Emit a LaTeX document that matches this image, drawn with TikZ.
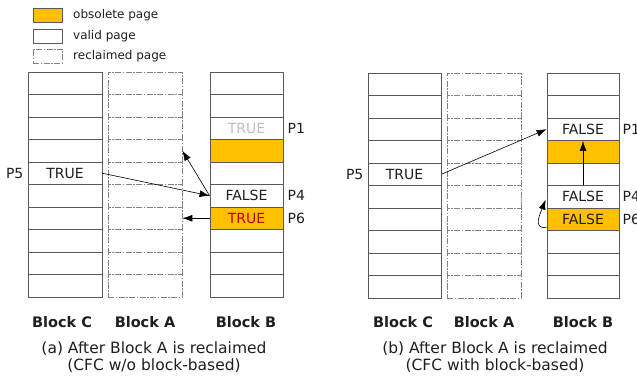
\documentclass[tikz,border=0pt]{standalone}
\usepackage{fontspec}
\setmainfont{DejaVu Sans}
\usetikzlibrary{arrows.meta}
\definecolor{obsolete}{RGB}{255,192,0}
\definecolor{linegray}{RGB}{88,88,88}
\definecolor{dashgray}{RGB}{130,130,130}
\definecolor{textdark}{RGB}{30,30,30}
\definecolor{fadedtext}{RGB}{190,190,190}
\definecolor{alerttext}{RGB}{200,0,0}
\begin{document}
\begin{tikzpicture}[x=1pt,y=-1pt,
  page/.style={draw=linegray, line width=0.8pt, fill=white, minimum width=74pt,
    minimum height=22.5pt, inner sep=0pt, font=\fontsize{14}{14}\selectfont, text=textdark},
  narrowpage/.style={page, minimum width=73pt},
  reclaimed/.style={page, draw=dashgray,
    dash pattern=on 6pt off 1.5pt on 1.5pt off 1.5pt},
  legbox/.style={draw=linegray, line width=0.8pt, minimum width=29pt,
    minimum height=14pt, inner sep=0pt},
  legtext/.style={anchor=west, inner sep=0pt, font=\fontsize{12}{12}\selectfont, text=textdark},
  plabel/.style={inner sep=0pt, font=\fontsize{14}{14}\selectfont, text=textdark},
  blocklabel/.style={inner sep=0pt, font=\bfseries\fontsize{14.5}{14.5}\selectfont, text=textdark},
  caption/.style={inner sep=0pt, align=center, font=\fontsize{15.5}{17}\selectfont, text=textdark},
  arr/.style={draw=black, line width=0.6pt, -{Latex[length=10pt,width=7pt]}}
]
\useasboundingbox (0,0) rectangle (637,379);

% ---------- legend ----------
\node[legbox, fill=obsolete] (legObs) at (47.5,15) {};
\node[legbox, fill=white] (legValid) at (47.5,36) {};
\node[legbox, draw=dashgray, dash pattern=on 6pt off 1.5pt on 1.5pt off 1.5pt] (legRecl) at (47.5,56) {};
\node[legtext] (legObsT) at (73,15) {obsolete page};
\node[legtext] (legValidT) at (73,36) {valid page};
\node[legtext] (legReclT) at (73,56) {reclaimed page};

% ---------- (a) without block-based CFC ----------
\foreach \i in {0,...,9} {
  \node[page] (aC\i) at (65,83.25+22.5*\i) {};
  \node[reclaimed] (aA\i) at (145,83.25+22.5*\i) {};
}
\foreach \i in {0,1,4,7,8,9}
  \node[narrowpage] (aB\i) at (246.5,83.25+22.5*\i) {};
\node[narrowpage, text=fadedtext] (aB2) at (246.5,128.25) {TRUE};
\node[narrowpage, fill=obsolete] (aB3) at (246.5,150.75) {};
\node[narrowpage] (aB5) at (246.5,195.75) {FALSE};
\node[narrowpage, fill=obsolete, text=alerttext] (aB6) at (246.5,218.25) {TRUE};
\node[page] (aC4) at (65,173.25) {TRUE};

\node[plabel, anchor=east] (aP5) at ([xshift=-4pt]aC4.west) {P5};
\node[plabel, anchor=west] (aP1) at ([xshift=4pt]aB2.east) {P1};
\node[plabel, anchor=west] (aP4) at ([xshift=4pt]aB5.east) {P4};
\node[plabel, anchor=west] (aP6) at ([xshift=4pt]aB6.east) {P6};

\draw[arr] (aC4.east) -- (aB5.west);
\draw[arr] (aB5.west) -- (aA3.east);
\draw[arr] (aB6.west) -- (aA6.east);

\node[blocklabel] (aLC) at (62,322) {Block C};
\node[blocklabel] (aLA) at (145,322) {Block A};
\node[blocklabel] (aLB) at (246,322) {Block B};
\node[caption] (aCap) at (154,357) {(a) After Block A is reclaimed\\(CFC w/o block-based)};

% ---------- (b) with block-based CFC ----------
\foreach \i in {0,...,9} {
  \node[narrowpage] (bC\i) at (404.5,84.25+22.5*\i) {};
  \node[reclaimed] (bA\i) at (484,84.25+22.5*\i) {};
}
\foreach \i in {0,1,4,7,8,9}
  \node[page, minimum width=72pt] (bB\i) at (583,84.25+22.5*\i) {};
\node[page, minimum width=72pt] (bB2) at (583,129.25) {FALSE};
\node[page, minimum width=72pt, fill=obsolete] (bB3) at (583,151.75) {};
\node[page, minimum width=72pt] (bB5) at (583,196.75) {FALSE};
\node[page, minimum width=72pt, fill=obsolete] (bB6) at (583,219.25) {FALSE};
\node[narrowpage] (bC4) at (404.5,174.25) {TRUE};

\node[plabel, anchor=east] (bP5) at ([xshift=-4pt]bC4.west) {P5};
\node[plabel, anchor=west] (bP1) at ([xshift=3pt]bB2.east) {P1};
\node[plabel, anchor=west] (bP4) at ([xshift=3pt]bB5.east) {P4};
\node[plabel, anchor=west] (bP6) at ([xshift=3pt]bB6.east) {P6};

\draw[arr] (bC4.east) -- (bB2.west);
\draw[arr] (bB5.north) -- (bB2.south);
\draw[arr, shorten >=3pt] ([yshift=-8pt]bB6.west) to[out=190, in=-110, looseness=1.3] (bB5.west);

\node[blocklabel] (bLC) at (403,322) {Block C};
\node[blocklabel] (bLA) at (484,322) {Block A};
\node[blocklabel] (bLB) at (583,322) {Block B};
\node[caption] (bCap) at (495,357) {(b) After Block A is reclaimed\\(CFC with block-based)};
\end{tikzpicture}
\end{document}
